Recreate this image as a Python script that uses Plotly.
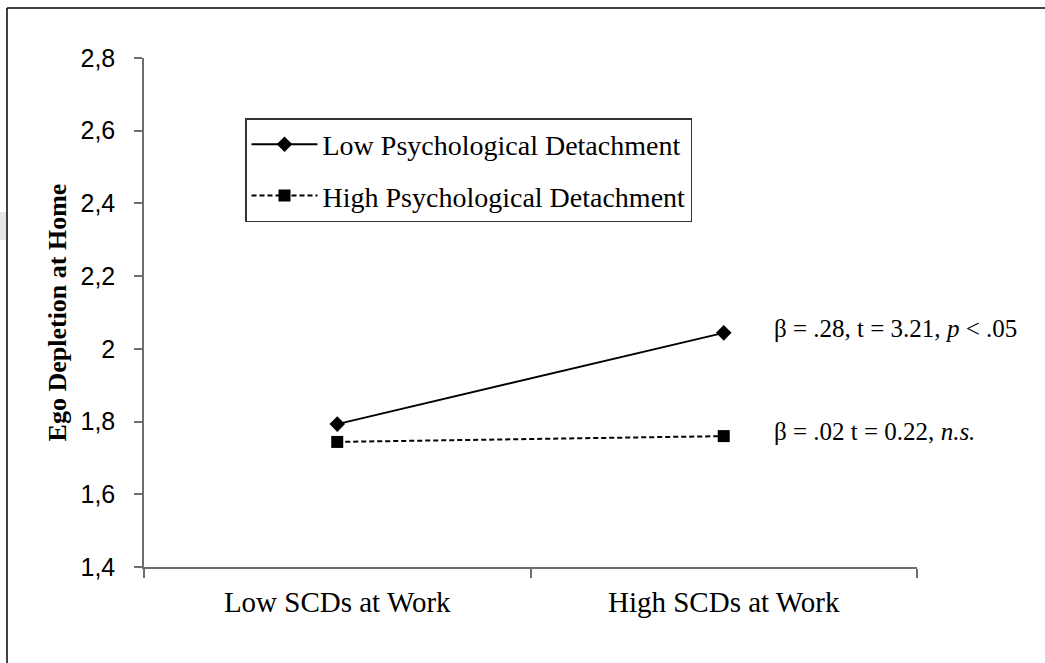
import plotly.graph_objects as go

categories = ["Low SCDs at Work", "High SCDs at Work"]
low_pd = [1.793, 2.044]
high_pd = [1.744, 1.760]
series_names = ["Low Psychological Detachment", "High Psychological Detachment"]
y_ticks = [1.4, 1.6, 1.8, 2.0, 2.2, 2.4, 2.6, 2.8]
ann_texts = ["β = .28, t = 3.21, <i>p</i> < .05", "β = .02 t = 0.22, <i>n.s.</i>"]

W, H = 1045, 663
L, R, T, B = 144, 128, 58, 96
pw, ph = W - L - R, H - T - B

def px_x(x):
    return (x - L) / pw

def px_y(y):
    return (H - B - y) / ph

fig = go.Figure()
fig.add_trace(go.Scatter(
    x=categories, y=low_pd, name=series_names[0], mode="lines+markers",
    legendgroup="a",
    line=dict(color="black", width=2),
    marker=dict(symbol="diamond", size=12, color="black"),
))
fig.add_trace(go.Scatter(
    x=categories, y=high_pd, name=series_names[1], mode="lines+markers",
    legendgroup="b",
    line=dict(color="black", width=2, dash="5px,3px"),
    marker=dict(symbol="square", size=12, color="black"),
))

axis_col = "#6e6e6e"
fig.update_layout(
    width=W, height=H,
    margin=dict(l=L, r=R, t=T, b=B, pad=0),
    paper_bgcolor="white", plot_bgcolor="white",
    separators=",.",
    showlegend=True,
    legend=dict(
        x=px_x(245), y=px_y(118), xanchor="left", yanchor="top",
        bordercolor="#333333", borderwidth=1.5, bgcolor="white",
        font=dict(family="Liberation Serif", size=28, color="black"),
        itemwidth=66, tracegroupgap=12,
    ),
    xaxis=dict(
        type="category", range=[-0.5, 1.5], tickson="boundaries",
        ticks="outside", ticklen=9, tickwidth=1.5, tickcolor=axis_col,
        showline=True, linecolor=axis_col, linewidth=1.5,
        showgrid=False, zeroline=False,
        tickfont=dict(family="Liberation Serif", size=29, color="black"),
        ticklabelstandoff=8,
    ),
    yaxis=dict(
        range=[1.4, 2.8], tickvals=y_ticks,
        ticks="outside", ticklen=8, tickwidth=1.5, tickcolor=axis_col,
        showline=True, linecolor=axis_col, linewidth=1.5,
        showgrid=False, zeroline=False,
        tickfont=dict(family="Liberation Sans", size=25, color="black"),
        ticklabelstandoff=14,
        title=dict(text="<b>Ego Depletion at Home</b>",
                   font=dict(family="Liberation Serif", size=26, color="black"),
                   standoff=6),
    ),
)

fig.add_annotation(x=1, y=low_pd[1], xref="x", yref="y", text=ann_texts[0],
                   showarrow=False, xanchor="left", xshift=48, yshift=4,
                   font=dict(family="Liberation Serif", size=25, color="black"))
fig.add_annotation(x=1, y=high_pd[1], xref="x", yref="y", text=ann_texts[1],
                   showarrow=False, xanchor="left", xshift=48, yshift=5,
                   font=dict(family="Liberation Serif", size=25, color="black"))

# outer frame of the figure (left and top border)
fig.add_shape(type="line", xref="paper", yref="paper",
              x0=px_x(7), x1=px_x(7), y0=px_y(8), y1=px_y(H + 5),
              line=dict(color="black", width=1.5))
fig.add_shape(type="line", xref="paper", yref="paper",
              x0=px_x(7), x1=px_x(W + 5), y0=px_y(8), y1=px_y(8),
              line=dict(color="black", width=1.5))
fig.add_shape(type="rect", xref="paper", yref="paper",
              x0=px_x(0), x1=px_x(6), y0=px_y(240), y1=px_y(212),
              line=dict(width=0), fillcolor="#e6e6e6")

fig.write_html("out.html",
               config={"displayModeBar": False},
               post_script="document.body.style.margin='0';document.body.style.overflow='hidden';")
